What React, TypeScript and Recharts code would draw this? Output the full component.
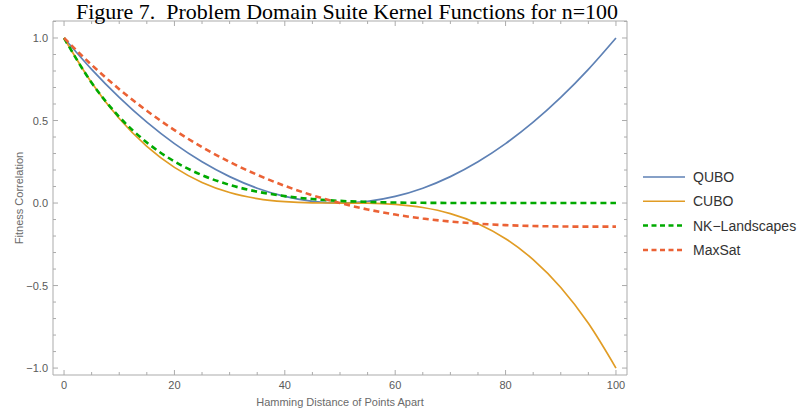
import React from 'react';
import { LineChart, Line, XAxis, YAxis, Legend } from 'recharts';

// ---- data ----
const distances = [0, 5, 10, 15, 20, 25, 30, 35, 40, 45, 50, 55, 60, 65, 70, 75, 80, 85, 90, 95, 100];
const qubo = [1, 0.81, 0.64, 0.49, 0.36, 0.25, 0.16, 0.09, 0.04, 0.01, 0, 0.01, 0.04, 0.09, 0.16, 0.25, 0.36, 0.49, 0.64, 0.81, 1];
const cubo = [1, 0.729, 0.512, 0.343, 0.216, 0.125, 0.064, 0.027, 0.008, 0.001, 0, -0.001, -0.008, -0.027, -0.064, -0.125, -0.216, -0.343, -0.512, -0.729, -1];
const nkLandscapes = [1, 0.729, 0.522, 0.367, 0.252, 0.169, 0.11, 0.069, 0.042, 0.024, 0.013, 0.007, 0.003, 0.0014, 0.0005, 0, 0, 0, 0, 0, 0];
const maxSat = [1, 0.837, 0.69, 0.559, 0.442, 0.339, 0.249, 0.171, 0.104, 0.047, 0, -0.039, -0.07, -0.094, -0.112, -0.125, -0.134, -0.139, -0.142, -0.143, -0.143];

const seriesKeys = ['qubo', 'cubo', 'nk', 'maxsat'];
const seriesNames = ['QUBO', 'CUBO', 'NK\u2212Landscapes', 'MaxSat'];
const seriesColors = ['#5E81B5', '#E19C24', '#00AA00', '#EB6235'];
const seriesDashed = [false, false, true, true];

const xTicks = [0, 5, 10, 15, 20, 25, 30, 35, 40, 45, 50, 55, 60, 65, 70, 75, 80, 85, 90, 95, 100];
const xMajorTicks = [0, 20, 40, 60, 80, 100];
const xTickLabels = ['0', '20', '40', '60', '80', '100'];
const yTicks = [-1, -0.9, -0.8, -0.7, -0.6, -0.5, -0.4, -0.3, -0.2, -0.1, 0, 0.1, 0.2, 0.3, 0.4, 0.5, 0.6, 0.7, 0.8, 0.9, 1, 1.1];
const yMajorTicks = [-1, -0.5, 0, 0.5, 1];
const yTickLabels = ['\u22121.0', '\u22120.5', '0.0', '0.5', '1.0'];

const title = 'Figure 7.\u00A0\u00A0Problem Domain Suite Kernel Functions for n=100';
const xLabel = 'Hamming Distance of Points Apart';
const yLabel = 'Fitness Correlation';

const data = distances.map((d, i) => ({
  d,
  qubo: qubo[i],
  cubo: cubo[i],
  nk: nkLandscapes[i],
  maxsat: maxSat[i],
}));

// ---- styling ----
const W = 800;
const H = 413;
const FRAME = '#ababab';
const TICK_TEXT = '#5a5a5a';
const LABEL_TEXT = '#6a6a6a';
const SANS = '"Liberation Sans", Arial, sans-serif';
const MAJOR = 5;
const MINOR = 3;

const findIndex = (arr: number[], v: number) => arr.findIndex((m) => Math.abs(m - v) < 1e-9);

function BottomTick(props: any) {
  const { x, y, payload } = props;
  const idx = findIndex(xMajorTicks, payload.value);
  const major = idx >= 0;
  return (
    <g>
      <line x1={x} x2={x} y1={y} y2={y - (major ? MAJOR : MINOR)} stroke={FRAME} strokeWidth={1} />
      {major && (
        <text x={x} y={y + 14} textAnchor="middle" fontSize={11} fontFamily={SANS} fill={TICK_TEXT}>
          {xTickLabels[idx]}
        </text>
      )}
    </g>
  );
}

function TopTick(props: any) {
  const { x, y, payload } = props;
  const major = findIndex(xMajorTicks, payload.value) >= 0;
  return <line x1={x} x2={x} y1={y} y2={y + (major ? MAJOR : MINOR)} stroke={FRAME} strokeWidth={1} />;
}

function LeftTick(props: any) {
  const { x, y, payload } = props;
  const idx = findIndex(yMajorTicks, payload.value);
  const major = idx >= 0;
  return (
    <g>
      <line x1={x} x2={x + (major ? MAJOR : MINOR)} y1={y} y2={y} stroke={FRAME} strokeWidth={1} />
      {major && (
        <text x={x - 5} y={y + 4} textAnchor="end" fontSize={11} fontFamily={SANS} fill={TICK_TEXT}>
          {yTickLabels[idx]}
        </text>
      )}
    </g>
  );
}

function RightTick(props: any) {
  const { x, y, payload } = props;
  const major = findIndex(yMajorTicks, payload.value) >= 0;
  return <line x1={x} x2={x - (major ? MAJOR : MINOR)} y1={y} y2={y} stroke={FRAME} strokeWidth={1} />;
}

function LegendContent() {
  return (
    <svg width={165} height={100} style={{ display: 'block' }}>
      {seriesNames.map((name, i) => {
        const cy = 12 + i * 24.3;
        return (
          <g key={name}>
            <line
              x1={10}
              x2={52}
              y1={cy}
              y2={cy}
              stroke={seriesColors[i]}
              strokeWidth={seriesDashed[i] ? 2.5 : 1.6}
              strokeDasharray={seriesDashed[i] ? '5 3.5' : undefined}
            />
            <text x={60} y={cy + 5} fontSize={14} fontFamily={SANS} fill="#333">
              {name}
            </text>
          </g>
        );
      })}
    </svg>
  );
}

export default function App() {
  return (
    <div style={{ position: 'absolute', left: 0, top: 0, width: W, height: H, background: '#fff' }}>
      <LineChart width={W} height={H} data={data} margin={{ top: 20, right: 172, bottom: 18, left: 23 }}>
        <XAxis
          xAxisId="b"
          orientation="bottom"
          type="number"
          dataKey="d"
          domain={[-2, 102]}
          allowDataOverflow
          ticks={xTicks}
          interval={0}
          height={20}
          tickSize={0}
          tickMargin={0}
          tickLine={false}
          axisLine={{ stroke: FRAME }}
          tick={<BottomTick />}
        />
        <XAxis
          xAxisId="t"
          orientation="top"
          type="number"
          dataKey="d"
          domain={[-2, 102]}
          allowDataOverflow
          ticks={xTicks}
          interval={0}
          height={1}
          tickSize={0}
          tickMargin={0}
          tickLine={false}
          axisLine={{ stroke: FRAME }}
          tick={<TopTick />}
        />
        <YAxis
          yAxisId="l"
          orientation="left"
          type="number"
          domain={[-1.042, 1.103]}
          allowDataOverflow
          ticks={yTicks}
          interval={0}
          width={30}
          tickSize={0}
          tickMargin={0}
          tickLine={false}
          axisLine={{ stroke: FRAME }}
          tick={<LeftTick />}
        />
        <YAxis
          yAxisId="r"
          orientation="right"
          type="number"
          domain={[-1.042, 1.103]}
          allowDataOverflow
          ticks={yTicks}
          interval={0}
          width={1}
          tickSize={0}
          tickMargin={0}
          tickLine={false}
          axisLine={{ stroke: FRAME }}
          tick={<RightTick />}
        />
        {seriesKeys.map((k, i) => (
          <Line
            key={k}
            xAxisId="b"
            yAxisId="l"
            dataKey={k}
            name={seriesNames[i]}
            type="monotone"
            stroke={seriesColors[i]}
            strokeWidth={seriesDashed[i] ? 2.6 : 1.7}
            strokeDasharray={seriesDashed[i] ? '6 4' : undefined}
            dot={false}
            activeDot={false}
            isAnimationActive={false}
          />
        ))}
        <Legend
          layout="horizontal"
          verticalAlign="middle"
          align="center"
          content={<LegendContent />}
          wrapperStyle={{ position: 'absolute', left: 633, top: 165, width: 165, height: 100 }}
        />
      </LineChart>
      <svg width={W} height={H} style={{ position: 'absolute', left: 0, top: 0, pointerEvents: 'none' }}>
        <text
          x={347}
          y={19.4}
          textAnchor="middle"
          fontSize={21.5}
          textLength={542}
          lengthAdjust="spacingAndGlyphs"
          fontFamily='"Liberation Serif", "Times New Roman", serif'
          fill="#000"
        >
          {title}
        </text>
        <text x={340} y={406} textAnchor="middle" fontSize={11} fontFamily={SANS} fill={LABEL_TEXT}>
          {xLabel}
        </text>
        <text x={23} y={198} textAnchor="middle" fontSize={11} fontFamily={SANS} fill={LABEL_TEXT} transform="rotate(-90 23 198)">
          {yLabel}
        </text>
      </svg>
    </div>
  );
}
